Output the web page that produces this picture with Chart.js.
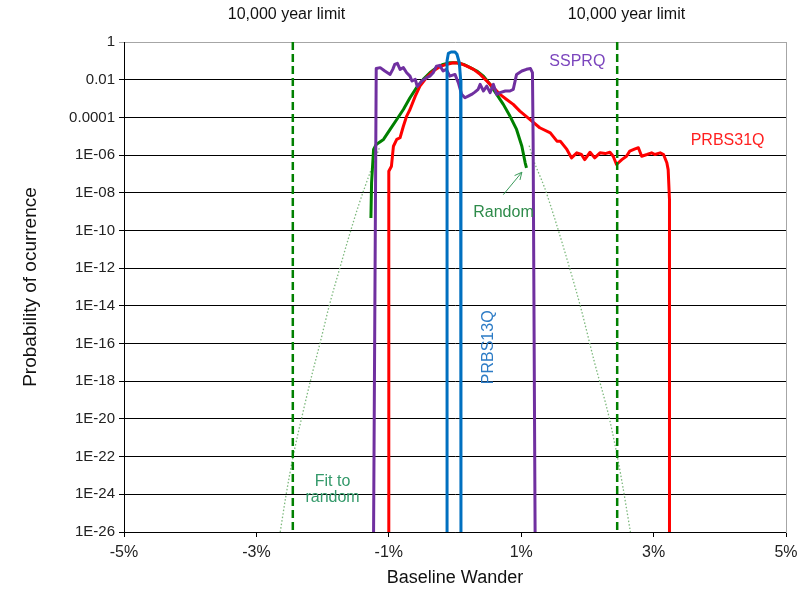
<!DOCTYPE html>
<html><head><meta charset="utf-8">
<script src="https://cdn.jsdelivr.net/npm/chart.js@4.4.0/dist/chart.umd.min.js"></script>
<style>html,body{margin:0;padding:0;background:#fff}#wrap{width:811px;height:600px}</style>
</head><body><div id="wrap"><canvas id="c" width="811" height="600"></canvas></div>
<script>
// ---- data (x in %, y as log10 of probability) ----
const xTickVals = [-5, -3, -1, 1, 3, 5];
const yTickExp = [0, -2, -4, -6, -8, -10, -12, -14, -16, -18, -20, -22, -24, -26];

const limitX = [-2.45, 2.45];

const prbs13qX = [-0.12, -0.12, -0.10, -0.06, 0.00, 0.03, 0.065, 0.085, 0.09];
const prbs13qLogP = [-26, -1.0, -0.60, -0.53, -0.53, -0.65, -1.10, -2.0, -26];

const ssprqX = [-1.23, -1.19, -1.13, -1.06, -0.98, -0.94, -0.91, -0.87, -0.83, -0.78, -0.73, -0.68, -0.65, -0.60, -0.57, -0.50, -0.43, -0.38, -0.33, -0.28, -0.23, -0.18, -0.13, -0.08, 0.00, 0.05, 0.10, 0.15, 0.20, 0.25, 0.30, 0.35, 0.38, 0.43, 0.48, 0.53, 0.58, 0.63, 0.68, 0.76, 0.83, 0.88, 0.93, 1.01, 1.08, 1.14, 1.17, 1.18, 1.21];
const ssprqLogP = [-26, -1.41, -1.36, -1.54, -1.72, -1.45, -1.19, -1.13, -1.45, -1.36, -1.63, -1.81, -2.07, -1.98, -2.37, -2.07, -1.89, -1.81, -1.63, -1.28, -1.24, -1.54, -1.45, -1.81, -1.72, -2.16, -2.78, -2.96, -2.87, -2.78, -2.66, -2.51, -2.25, -2.60, -2.34, -2.69, -2.25, -2.78, -2.69, -2.60, -2.60, -2.51, -1.72, -1.54, -1.45, -1.41, -1.63, -5.17, -26];

const randomX = [-1.27, -1.26, -1.23, -1.19, -1.08, -0.98, -0.88, -0.78, -0.68, -0.58, -0.48, -0.38, -0.28, -0.18, -0.08, 0.03, 0.13, 0.23, 0.33, 0.43, 0.53, 0.63, 0.73, 0.83, 0.93, 1.01, 1.06, 1.08];
const randomLogP = [-9.34, -7.46, -5.70, -5.44, -5.17, -4.64, -4.11, -3.58, -2.96, -2.42, -1.98, -1.63, -1.36, -1.19, -1.10, -1.10, -1.19, -1.36, -1.54, -1.81, -2.25, -2.78, -3.31, -3.93, -4.64, -5.53, -6.41, -6.68];

const prbs31qX = [-1.00, -1.00, -0.96, -0.93, -0.88, -0.83, -0.78, -0.73, -0.68, -0.60, -0.53, -0.43, -0.33, -0.23, -0.13, -0.03, 0.08, 0.18, 0.28, 0.38, 0.48, 0.58, 0.68, 0.78, 0.88, 0.98, 1.13, 1.28, 1.44, 1.54, 1.59, 1.69, 1.76, 1.84, 1.91, 1.96, 2.04, 2.11, 2.19, 2.27, 2.34, 2.39, 2.44, 2.52, 2.59, 2.64, 2.72, 2.77, 2.82, 2.90, 2.97, 3.02, 3.10, 3.15, 3.20, 3.22, 3.24, 3.24];
const prbs31qLogP = [-26, -6.86, -6.59, -5.53, -5.17, -5.08, -4.47, -3.93, -3.58, -2.87, -2.34, -1.89, -1.54, -1.31, -1.19, -1.10, -1.13, -1.28, -1.45, -1.72, -2.07, -2.42, -2.78, -3.05, -3.31, -3.67, -4.11, -4.55, -4.82, -5.26, -5.26, -5.70, -6.15, -5.88, -5.97, -6.24, -5.85, -6.15, -5.88, -5.92, -5.85, -6.06, -6.50, -6.24, -6.06, -5.79, -5.67, -5.61, -6.06, -5.97, -5.88, -5.97, -5.88, -5.97, -6.41, -6.77, -8.36, -26];

const fitLeftX = [-2.64, -2.55, -2.44, -2.30, -2.15, -2.04, -1.90, -1.74, -1.60, -1.45, -1.28, -1.14];
const fitLeftLogP = [-26, -24.0, -21.9, -19.7, -17.5, -16.0, -14.0, -12.0, -10.3, -8.6, -6.9, -5.6];
const fitRightX = [1.12, 1.18, 1.35, 1.50, 1.74, 1.90, 2.10, 2.34, 2.50, 2.65];
const fitRightLogP = [-5.5, -6.2, -7.7, -9.3, -12.1, -14.1, -16.9, -20.1, -22.9, -26];

// ---- helpers ----
const F = '"Liberation Sans", Arial, sans-serif';
const pts = (xs, ys) => xs.map((x, i) => ({x: x, y: ys[i]}));
function fmtP(v) {
  if (v === 0) return '1';
  const e = -v;
  if (e <= 4) return Math.pow(10, v).toFixed(e);
  return '1E-' + (e < 10 ? '0' + e : String(e));
}
function line(data, color, width, order, extra) {
  return Object.assign({data: data, showLine: true, borderColor: color, backgroundColor: color,
    borderWidth: width, pointRadius: 0, tension: 0, order: order, borderJoinStyle: 'round'}, extra || {});
}

const annotations = [
  {text: '10,000 year limit', x: -2.545, y: 1.47, color: '#111', align: 'center'},
  {text: '10,000 year limit', x: 2.59, y: 1.47, color: '#111', align: 'center'},
  {text: 'SSPRQ', x: 1.425, y: -1.06, color: '#7B45BD', align: 'left'},
  {text: 'PRBS31Q', x: 3.56, y: -5.21, color: '#FF1F1F', align: 'left'},
  {text: 'Random', x: 0.276, y: -9.07, color: '#2E8B4A', align: 'left'},
  {text: 'PRBS13Q', x: 0.50, y: -16.2, color: '#2D7CC6', align: 'center', rotate: true},
  {text: 'Fit to', x: -1.85, y: -23.3, color: '#33996A', align: 'center'},
  {text: 'random', x: -1.85, y: -24.2, color: '#33996A', align: 'center'}
];
const arrowFrom = {x: 0.73, y: -8.10};
const arrowTo = {x: 1.01, y: -6.91};

const annotPlugin = {
  id: 'annot',
  afterDraw(chart) {
    const {ctx} = chart;
    const xs = chart.scales.x, ys = chart.scales.y;
    ctx.save();
    ctx.font = '16px ' + F;
    ctx.textBaseline = 'middle';
    annotations.forEach(a => {
      const px = xs.getPixelForValue(a.x), py = ys.getPixelForValue(a.y);
      ctx.fillStyle = a.color;
      ctx.textAlign = a.align;
      if (a.rotate) {
        ctx.save(); ctx.translate(px, py); ctx.rotate(-Math.PI / 2);
        ctx.textAlign = 'center'; ctx.fillText(a.text, 0, 0); ctx.restore();
      } else {
        ctx.fillText(a.text, px, py);
      }
    });
    // arrow
    const x1 = xs.getPixelForValue(arrowFrom.x), y1 = ys.getPixelForValue(arrowFrom.y);
    const x2 = xs.getPixelForValue(arrowTo.x), y2 = ys.getPixelForValue(arrowTo.y);
    ctx.strokeStyle = '#3A9A5A'; ctx.lineWidth = 1;
    ctx.beginPath(); ctx.moveTo(x1, y1); ctx.lineTo(x2, y2); ctx.stroke();
    const ang = Math.atan2(y2 - y1, x2 - x1), L = 8;
    ctx.beginPath();
    ctx.moveTo(x2 - L * Math.cos(ang - 0.45), y2 - L * Math.sin(ang - 0.45));
    ctx.lineTo(x2, y2);
    ctx.lineTo(x2 - L * Math.cos(ang + 0.45), y2 - L * Math.sin(ang + 0.45));
    ctx.stroke();
    ctx.restore();
  }
};

new Chart(document.getElementById('c'), {
  type: 'scatter',
  data: {
    datasets: [
      line(pts(prbs13qX, prbs13qLogP), '#0070C0', 3, 2),
      line(pts(ssprqX, ssprqLogP), '#7030A0', 3, 4),
      line(pts([limitX[0], limitX[0]], [0, -26]), '#008000', 2.5, 5, {borderDash: [8, 4]}),
      line(pts([limitX[1], limitX[1]], [0, -26]), '#008000', 2.5, 5, {borderDash: [8, 4]}),
      line(pts(prbs31qX, prbs31qLogP), '#FF0000', 3, 6),
      line(pts(randomX, randomLogP), '#008000', 3, 8),
      line(pts(fitLeftX, fitLeftLogP), '#7DB87D', 1.3, 10, {borderDash: [1.5, 2], cubicInterpolationMode: 'monotone'}),
      line(pts(fitRightX, fitRightLogP), '#7DB87D', 1.3, 10, {borderDash: [1.5, 2], cubicInterpolationMode: 'monotone'})
    ]
  },
  options: {
    responsive: false,
    devicePixelRatio: 1,
    animation: false,
    events: [],
    layout: {padding: {top: 42, right: 25, bottom: 0, left: 0}},
    plugins: {legend: {display: false}, tooltip: {enabled: false}},
    scales: {
      x: {
        type: 'linear', min: -5, max: 5,
        afterBuildTicks: s => { s.ticks = xTickVals.map(v => ({value: v})); },
        afterFit: s => { s.height = 68; },
        ticks: {callback: v => v + '%', font: {size: 16, family: F}, color: '#222', padding: 6, autoSkip: false, maxRotation: 0},
        grid: {drawOnChartArea: false, drawTicks: true, tickLength: 5, color: '#000'},
        border: {color: '#000', width: 1},
        title: {display: true, text: 'Baseline Wander', font: {size: 18, family: F}, color: '#111', padding: {top: 0, bottom: 11}}
      },
      y: {
        type: 'linear', min: -26, max: 0,
        afterBuildTicks: s => { s.ticks = yTickExp.map(v => ({value: v})); },
        afterFit: s => { s.width = 124; },
        ticks: {callback: fmtP, font: {size: 15, family: F}, color: '#222', padding: 4, autoSkip: false},
        grid: {color: c => (c.tick && c.tick.value === 0) ? '#a6a6a6' : '#000', lineWidth: 1, tickLength: 5},
        border: {color: '#000', width: 1},
        title: {display: true, text: 'Probability of ocurrence', font: {size: 19, family: F}, color: '#111', padding: {top: 19, bottom: 0}}
      },
      y2: {
        type: 'linear', position: 'right', min: -26, max: 0, display: true,
        ticks: {display: false},
        grid: {display: false, drawTicks: false},
        border: {color: '#a6a6a6', width: 1},
        afterFit: s => { s.width = 0; }
      }
    }
  },
  plugins: [annotPlugin]
});
</script></body></html>
